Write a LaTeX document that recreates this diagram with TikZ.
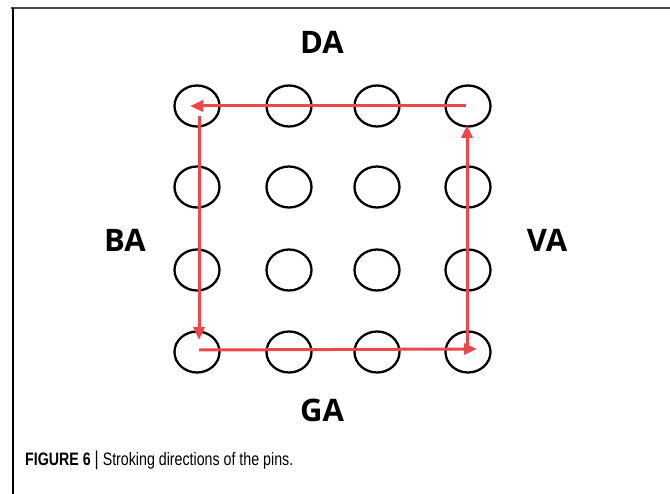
\documentclass[tikz,border=0pt]{standalone}
\usepackage{fontspec}
\setmainfont{Liberation Sans}
\newfontfamily\labelfont{Open Sans}
\newfontfamily\capfont[FakeStretch=0.79]{Liberation Sans}
\usetikzlibrary{arrows.meta,shapes.geometric}
\definecolor{strokered}{RGB}{236,72,76}
\definecolor{framegray}{RGB}{70,70,70}
\begin{document}
\begin{tikzpicture}[x=1pt,y=-1pt,
  pin/.style={draw=black,line width=2.3pt,ellipse,minimum width=45pt,minimum height=41pt,inner sep=0pt},
  side/.style={font=\labelfont\bfseries\fontsize{31}{31}\selectfont},
  stroke/.style={draw=strokered,line width=3pt,-{Triangle[length=13pt,width=11pt]}}]

\useasboundingbox (0,0) rectangle (670,494);
\draw [framegray,line width=2pt] (11,8.5) -- (670,8.5);
\draw [black,line width=1.2pt] (13,8) -- (13,494);

% pins
\foreach \r/\y in {1/106,2/187,3/270,4/352}{
  \foreach \c/\x in {1/197,2/289,3/377,4/468}{
    \node[pin] (p\r\c) at (\x,\y) {};
  }
}

% stroking directions
\draw[stroke,shorten <=2pt,shorten >=-7pt] (p14.center) -- (p11.center);
\draw[stroke,shorten <=10pt,shorten >=12pt] ([xshift=2pt]p11.center) -- ([xshift=2pt]p41.center);
\draw[stroke,shorten <=0pt,shorten >=-9pt] ([xshift=2pt,yshift=2pt]p41.center) -- ([yshift=3pt]p44.center);
\draw[stroke,shorten <=7pt,shorten >=19pt] ([xshift=-1pt]p44.center) -- ([xshift=-1pt]p14.center);

\node[side] (da) at (322,42) {DA};
\node[side] (ba) at (125,240) {BA};
\node[side] (va) at (547,240) {VA};
\node[side] (ga) at (322,410) {GA};

\node[anchor=base west,inner sep=0pt,font=\capfont\fontsize{18}{18}\selectfont] (cap) at (25,465)
  {\textbf{FIGURE 6} {\fontsize{20}{20}\selectfont|} Stroking directions of the pins.};
\end{tikzpicture}
\end{document}
